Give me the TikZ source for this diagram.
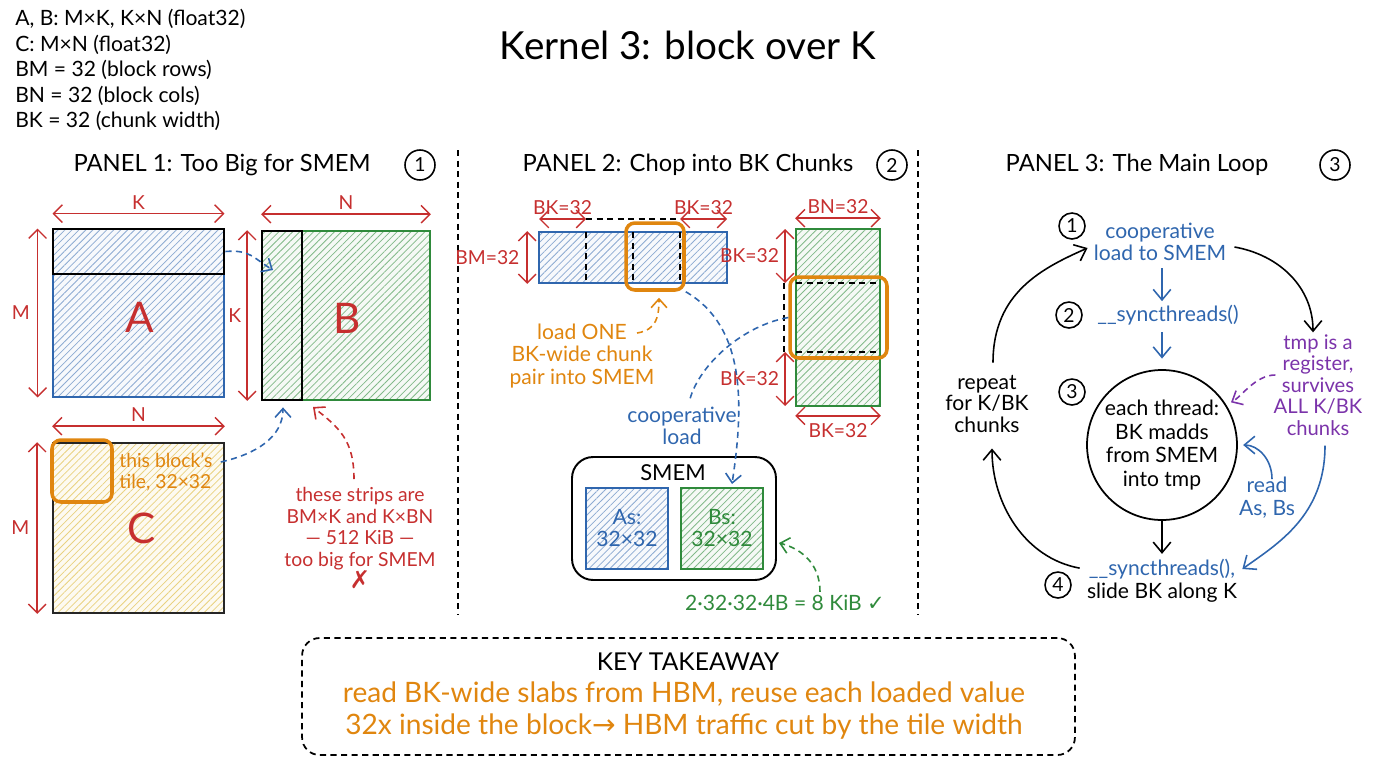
\documentclass[tikz,border=0pt]{standalone}
\usepackage{fontspec}
\setmainfont{Lato}
\newfontfamily\symf{DejaVu Sans}
\usetikzlibrary{arrows.meta,positioning,calc,patterns.meta}
\definecolor{kBlue}{HTML}{2F66AE}
\definecolor{kGreen}{HTML}{2F8A3B}
\definecolor{kRed}{HTML}{C62F2F}
\definecolor{kOrange}{HTML}{E0860F}
\definecolor{kPurple}{HTML}{7B33AA}
\definecolor{kYellow}{HTML}{E2C356}

\begin{document}
\begin{tikzpicture}[x=0.02cm,y=-0.02cm,inner sep=0pt,
  hatch/.style={pattern={Lines[angle=45,distance=2.8pt,line width=0.45pt]}},
  matA/.style={draw=kBlue,line width=1pt,preaction={fill=kBlue!4},hatch,pattern color=kBlue!55},
  matB/.style={draw=kGreen,line width=1pt,preaction={fill=kGreen!5},hatch,pattern color=kGreen!60},
  matC/.style={draw=black!85,line width=1pt,preaction={fill=kYellow!8},hatch,pattern color=kYellow!75},
  strip/.style={draw=black,line width=1.6pt},
  hilite/.style={draw=kOrange,line width=2pt,rounded corners=5pt},
  dsh/.style={dash pattern=on 3.5pt off 2.5pt},
  dim/.style={kRed,line width=0.8pt,{Straight Barb[length=5pt,width=10pt]}-{Straight Barb[length=5pt,width=10pt]}},
  dimlbl/.style={text=kRed,font=\fontsize{11}{13}\selectfont},
  dasharr/.style={dsh,line width=0.9pt,-{Straight Barb[length=5pt,width=9pt]}},
  arr/.style={line width=0.9pt,-{Straight Barb[length=6pt,width=10pt]}},
  num/.style={circle,draw,line width=0.9pt,minimum size=0.52cm,font=\fontsize{11}{13}\selectfont},
  note/.style={align=center,font=\fontsize{11}{12.2}\selectfont},
  ttl/.style={font=\fontsize{13.5}{16}\selectfont},
  big/.style={text=kRed,font=\fontsize{24}{28}\selectfont}
]
  \useasboundingbox (0,0) rectangle (1376,768);

  % ── Notes and title ──────────────────────────────────────────────────────
  \node[anchor=north west,align=left,font=\fontsize{12}{14.5}\selectfont] (notes) at (15,9)
    {A, B: M×K, K×N (float32)\\C: M×N (float32)\\BM = 32 (block rows)\\BN = 32 (block cols)\\BK = 32 (chunk width)};
  \node[font=\fontsize{22}{26}\selectfont] (title) at (688,45) {Kernel 3: block over K};

  \draw[dsh,line width=0.8pt] (458,150) -- (458,615);
  \draw[dsh,line width=0.8pt] (918,150) -- (918,615);

  % ── Panel 1: too big ─────────────────────────────────────────────────────
  \node[ttl] (p1) at (222,165) {PANEL 1: Too Big for SMEM};
  \node[num,minimum size=0.6cm] (n1) at (420,165) {1};

  \node[matA,minimum width=3.42cm,minimum height=3.36cm] (A) at (138.5,313) {};
  \node[strip,minimum width=3.42cm,minimum height=0.9cm] (Astrip) at (138.5,251.5) {};
  \node[big] (Alab) at (140,317) {A};
  \node[matB,minimum width=3.36cm,minimum height=3.38cm] (B) at (346,315.5) {};
  \node[strip,minimum width=0.8cm,minimum height=3.38cm] (Bstrip) at (282,315.5) {};
  \node[big] (Blab) at (347,318) {B};
  \node[matC,minimum width=3.42cm,minimum height=3.4cm] (C) at (138.5,528) {};
  \node[hilite,minimum width=1.2cm,minimum height=1.24cm] (tile) at (82,471) {};
  \node[big] (Clab) at (142,528) {C};

  \draw[dim] ($(A.north west)+(0,-15)$) -- node[above=2pt,dimlbl]{K} ($(A.north east)+(0,-15)$);
  \draw[dim] ($(A.north west)+(-15,0)$) -- node[left=4pt,dimlbl]{M} ($(A.south west)+(-15,0)$);
  \draw[dim] ($(B.north west)+(0,-16)$) -- node[above=2pt,dimlbl]{N} ($(B.north east)+(0,-16)$);
  \draw[dim] ($(B.north west)+(-14,0)$) -- node[left=3pt,dimlbl]{K} ($(B.south west)+(-14,0)$);
  \draw[dim] ($(C.north west)+(0,-16)$) -- node[above=2pt,dimlbl]{N} ($(C.north east)+(0,-16)$);
  \draw[dim] ($(C.north west)+(-15,0)$) -- node[left=4pt,dimlbl]{M} ($(C.south west)+(-15,0)$);

  \node[note,text=kOrange,align=left,anchor=west] (tilelbl) at (119,472) {this block’s\\tile, 32×32};
  \node[note,text=kRed,anchor=north,font=\fontsize{11}{12.3}\selectfont] (strips) at (360,487)
    {these strips are\\BM×K and K×BN\\— 512 KiB —\\too big for SMEM\\{\symf\bfseries\fontsize{14}{12.3}\selectfont ✗}};

  \coordinate (bhit) at (273,270);
  \coordinate (redtip) at (313,407);
  \draw[dasharr,kBlue] (Astrip.east) .. controls +(25,-2) and +(-20,-12) .. (bhit);
  \draw[dasharr,kBlue] ($(tilelbl.east)+(8,-10)$) .. controls +(35,-8) and +(0,30) .. ($(Bstrip.south)+(1,6)$);
  \draw[dasharr,kRed] ($(strips.north)+(-6,-8)$) .. controls +(0,-40) and +(25,20) .. (redtip);

  % ── Panel 2: BK chunks ───────────────────────────────────────────────────
  \node[ttl] (p2) at (688,165) {PANEL 2: Chop into BK Chunks};
  \node[num,minimum size=0.6cm] (n2) at (892,165) {2};

  \node[matA,minimum width=3.76cm,minimum height=1.02cm] (Aslab) at (633,257.5) {};
  \foreach \x in {586,633,680}
    \draw[dsh,line width=0.9pt] (\x,232) -- (\x,283);
  \node[hilite,minimum width=1.16cm,minimum height=1.34cm] (Achunk) at (655,256.5) {};
  \draw[dim] (539,219) -- node[above=2pt,dimlbl]{BK=32} (586,219);
  \draw[dsh,line width=0.8pt] (586,219) -- (680,219);
  \draw[dim] (680,219) -- node[above=2pt,dimlbl]{BK=32} (727,219);
  \draw[dim] ($(Aslab.north west)+(-11,0)$) -- node[left=4pt,dimlbl]{BM=32} ($(Aslab.south west)+(-11,0)$);

  \node[matB,minimum width=1.68cm,minimum height=3.54cm] (Bslab) at (838,317.5) {};
  \draw[dsh,line width=0.9pt] (796,283) -- (880,283);
  \draw[dsh,line width=0.9pt] (796,352) -- (880,352);
  \draw[dsh,line width=0.9pt] (784,283) -- (784,352);
  \node[hilite,minimum width=1.94cm,minimum height=1.62cm] (Bchunk) at (838.5,317.5) {};
  \draw[dim] ($(Bslab.north west)+(0,-10)$) -- node[above=2pt,dimlbl]{BN=32} ($(Bslab.north east)+(0,-10)$);
  \draw[dim] (785,229) -- node[left=3pt,dimlbl]{BK=32} (785,283);
  \draw[dim] (785,352) -- node[left=3pt,dimlbl]{BK=32} (785,406);
  \draw[dim] ($(Bslab.south west)+(0,9)$) -- node[below=4pt,dimlbl]{BK=32} ($(Bslab.south east)+(0,9)$);

  \node[note,text=kOrange,font=\fontsize{12}{12.8}\selectfont] (loadlbl) at (582,356) {load ONE\\BK-wide chunk\\pair into SMEM};
  \node[note,text=kBlue,font=\fontsize{12}{12.5}\selectfont] (coop) at (682,426) {cooperative\\load};

  \node[draw,line width=1.1pt,rounded corners=12pt,minimum width=4.08cm,minimum height=2.46cm] (smem) at (674,518.5) {};
  \node[font=\fontsize{12.5}{14}\selectfont] (smemlbl) at (673,473) {SMEM};
  \node[matA,minimum width=1.64cm,minimum height=1.62cm,align=center,text=kBlue,font=\fontsize{12}{12.5}\selectfont] (As) at (627,528.5) {As:\\32×32};
  \node[matB,minimum width=1.64cm,minimum height=1.62cm,align=center,text=kGreen,font=\fontsize{12}{12.5}\selectfont] (Bs) at (722,528.5) {Bs:\\32×32};
  \node[note,text=kGreen,font=\fontsize{12}{14}\selectfont] (size) at (785,603) {2·32·32·4B = 8 KiB {\symf ✓}};

  \coordinate (lo) at (637,333);
  \coordinate (bsin) at (732,484);
  \coordinate (bsout) at (779,543);
  \draw[dasharr,kOrange] (lo) .. controls +(20,-3) and +(0,18) .. ($(Achunk.south)+(4,6)$);
  \draw[dasharr,kBlue] (Achunk.south east) .. controls +(60,35) and +(12,-80) .. (bsin);
  \draw[dsh,kBlue,line width=0.9pt] (Bchunk.west) .. controls +(-45,8) and +(10,-35) .. ($(coop.north)+(8,-8)$);
  \draw[dasharr,kGreen] ($(size.north)+(35,-3)$) .. controls +(0,-30) and +(20,5) .. (bsout);

  % ── Panel 3: main loop ───────────────────────────────────────────────────
  \node[ttl] (p3) at (1137,165) {PANEL 3: The Main Loop};
  \node[num,minimum size=0.6cm] (n3) at (1335,165) {3};

  \node[note,text=kBlue,font=\fontsize{12}{12.8}\selectfont] (s1) at (1160,242) {cooperative\\load to SMEM};
  \node[num] (s1n) at (1072,226) {1};
  \node[note,text=kBlue,font=\fontsize{12}{14}\selectfont] (s2) at (1168,315) {\_\_syncthreads()};
  \node[num] (s2n) at (1069,315) {2};
  \node[circle,draw,line width=1pt,minimum size=3cm,align=center,font=\fontsize{12}{13.6}\selectfont] (loop) at (1162,445)
    {each thread:\\BK madds\\from SMEM\\into tmp};
  \node[num] (s3n) at (1072,392) {3};
  \node[note,font=\fontsize{12}{13}\selectfont] (s4) at (1162,581) {\textcolor{kBlue}{\_\_syncthreads(),}\\slide BK along K};
  \node[num] (s4n) at (1058,585) {4};
  \node[note,font=\fontsize{12}{12.5}\selectfont] (rep) at (987,404) {repeat\\for K/BK\\chunks};
  \node[note,text=kPurple,font=\fontsize{11.5}{12.2}\selectfont] (tmp) at (1318,385) {tmp is a\\register,\\survives\\ALL K/BK\\chunks};
  \node[note,text=kBlue,font=\fontsize{12}{13}\selectfont] (rd) at (1267,498) {read\\As, Bs};

  \draw[arr,kBlue,shorten <=4pt,shorten >=2pt] (s1.south -| loop.north) -- (s2.north -| loop.north);
  \draw[arr,kBlue,shorten <=4pt,shorten >=6pt] (s2.south -| loop.north) -- (loop.north);
  \draw[arr,shorten >=3pt] (loop.south) -- (s4.north -| loop.south);
  \draw[arr] ($(s4.north west)+(-7,9)$) .. controls +(-55,-10) and +(0,55) .. ($(rep.south)+(5,15)$);
  \draw[arr] ($(rep.north)+(6,-12)$) .. controls +(0,-70) and +(-45,20) .. ($(s1.west)+(-6,6)$);
  \draw[arr] ($(s1.east)+(8,5)$) .. controls +(45,8) and +(0,-45) .. ($(tmp.north)+(-5,-2)$);
  \draw[dasharr,kPurple,shorten >=3pt] ($(tmp.west)+(2,-10)$) .. controls +(-20,0) and +(15,-8) .. (loop.32);
  \draw[arr,kBlue] ($(tmp.south)+(7,10)$) .. controls +(0,70) and +(35,-25) .. ($(s4.east)+(5,-12)$);
  \draw[arr,kBlue,shorten >=3pt] ($(rd.north)+(5,2)$) .. controls +(0,-20) and +(20,0) .. (loop.east);

  % ── Key takeaway ─────────────────────────────────────────────────────────
  \node[draw,dsh,line width=1pt,rounded corners=10pt,minimum width=15.46cm,minimum height=2.34cm] (takebox) at (688.5,696.5) {};
  \node[font=\fontsize{14}{16}\selectfont] (keyttl) at (688,662) {KEY TAKEAWAY};
  \node[align=center,text=kOrange,font=\fontsize{16}{18.2}\selectfont] (keytxt) at (684,711)
    {read BK-wide slabs from HBM, reuse each loaded value\\32x inside the block{\symf→} HBM traffic cut by the tile width};
\end{tikzpicture}
\end{document}
